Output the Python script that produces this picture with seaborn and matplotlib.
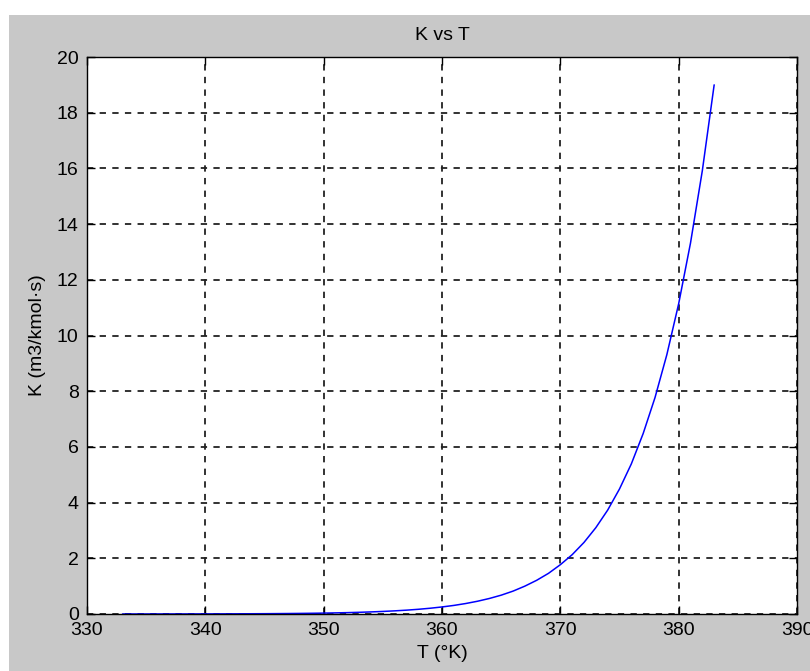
import numpy as np
import pandas as pd
import matplotlib
matplotlib.use("Agg")
import matplotlib.pyplot as plt
import seaborn as sns
from matplotlib.patches import Rectangle

# Data
temperature = list(range(333, 384))
rate_k = [0.0009, 0.0011, 0.0014, 0.0017, 0.0021, 0.0026, 0.0032, 0.0039, 0.0048,
          0.0060, 0.0074, 0.0091, 0.011, 0.014, 0.017, 0.021, 0.026, 0.032,
          0.040, 0.049,
          0.061, 0.075, 0.092, 0.113, 0.138, 0.169, 0.207, 0.253, 0.308, 0.376,
          0.458, 0.557, 0.676, 0.821, 1.00, 1.21, 1.46, 1.77, 2.13, 2.57, 3.10,
          3.73, 4.49, 5.39, 6.48, 7.77, 9.31, 11.14, 13.32, 15.92, 19.0]
x_ticks = [330, 340, 350, 360, 370, 380, 390]
y_ticks = [0, 2, 4, 6, 8, 10, 12, 14, 16, 18, 20]
title = "K vs T"
x_label = "T (°K)"
y_label = "K (m3/kmol·s)"

df = pd.DataFrame({"T": temperature, "K": rate_k})

sns.set_theme(style="white")
plt.rcParams["font.family"] = ["Liberation Sans", "DejaVu Sans"]

fig = plt.figure(figsize=(8.1, 6.71), dpi=100, facecolor="white")
fig.patches.append(Rectangle((9 / 810, 0), 1, 1 - 15 / 671, transform=fig.transFigure,
                             facecolor="#c8c8c8", edgecolor="none", zorder=-10))

ax = fig.add_axes([87 / 810, 1 - 614 / 671, (797 - 87) / 810, (614 - 57) / 671])
ax.set_facecolor("white")

sns.lineplot(data=df, x="T", y="K", ax=ax, color="#0000ff", linewidth=1.1)

ax.set_xlim(330, 390)
ax.set_ylim(0, 20)
ax.set_xticks(x_ticks)
ax.set_yticks(y_ticks)
ax.grid(True, color="#222222", linestyle=(0, (3.5, 3.5)), linewidth=1.3)
for s in ax.spines.values():
    s.set_color("black")
    s.set_linewidth(1.0)
    s.set_visible(True)
ax.tick_params(direction="in", length=6, width=1, colors="black", labelsize=14,
               top=True, right=True, bottom=True, left=True, pad=6)

ax.set_title(title, fontsize=14, color="black", pad=12)
ax.set_xlabel(x_label, fontsize=14, color="black", labelpad=4)
ax.set_ylabel(y_label, fontsize=14, color="black", labelpad=8)

fig.savefig("out.png", dpi=100, facecolor=fig.get_facecolor())
